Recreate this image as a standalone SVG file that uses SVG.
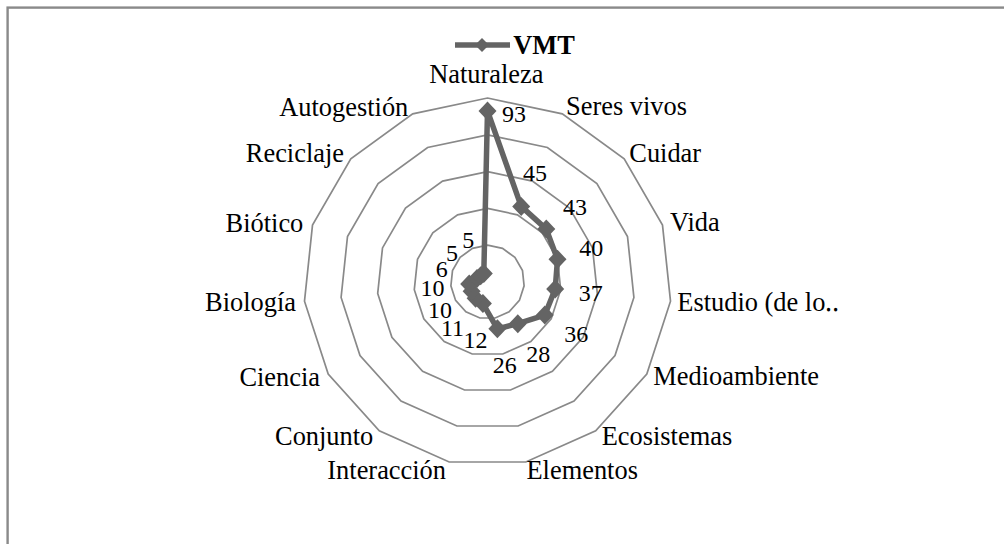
<svg xmlns="http://www.w3.org/2000/svg" xmlns:xlink="http://www.w3.org/1999/xlink" width="1004" height="544" viewBox="0 0 1004 544">
<style>
.ring{fill:none;stroke:#898989;stroke-width:1.7;stroke-linejoin:miter}
.cat{font-family:"Liberation Serif","Times New Roman",serif;font-size:26.4px;fill:#000}
.val{font-family:"Liberation Serif","Times New Roman",serif;font-size:24px;fill:#000;text-anchor:middle}
.series{fill:none;stroke:#646464;stroke-width:5.5;stroke-linejoin:round}
.mk{fill:#646464}
</style>
<defs>
<path id="dia" d="M0,-9.5 L9,0 L0,9.5 L-9,0 Z"/>
</defs>
<rect x="0" y="0" width="1004" height="544" fill="#fff"/>
<rect x="7.6" y="7.6" width="1010" height="560" fill="#fff" stroke="#8a8a8a" stroke-width="2.4"/>
<g id="grid">
<polygon class="ring" points="487.5,98 562.3,113.9 624.2,158.9 662.5,225.1 670.5,301.2 646.8,374 595.7,430.9 525.8,462 449.2,462 379.3,430.9 328.2,374 304.5,301.2 312.5,225.1 350.8,158.9 412.7,113.9"/>
<polygon class="ring" points="487.5,134.8 547.4,147.5 596.9,183.5 627.5,236.5 633.9,297.4 615,355.6 574,401.1 518.1,426 456.9,426 401,401.1 360,355.6 341.1,297.4 347.5,236.5 378.1,183.5 427.6,147.5"/>
<polygon class="ring" points="487.5,171.6 532.4,181.1 569.5,208.1 592.5,247.9 597.3,293.5 583.1,337.2 552.4,371.3 510.5,390 464.5,390 422.6,371.3 391.9,337.2 377.7,293.5 382.5,247.9 405.5,208.1 442.6,181.1"/>
<polygon class="ring" points="487.5,208.4 517.4,214.8 542.2,232.8 557.5,259.3 560.7,289.7 551.2,318.8 530.8,341.5 502.8,354 472.2,354 444.2,341.5 423.8,318.8 414.3,289.7 417.5,259.3 432.8,232.8 457.6,214.8"/>
<polygon class="ring" points="487.5,245.2 502.5,248.4 514.9,257.4 522.5,270.6 524.1,285.8 519.4,300.4 509.1,311.8 495.2,318 479.9,318 465.9,311.8 455.6,300.4 450.9,285.8 452.5,270.6 460.1,257.4 472.5,248.4"/>
</g>
<g id="categories">
<text class="cat" x="486.3" y="83" text-anchor="middle">Naturaleza</text>
<text class="cat" x="566" y="115">Seres vivos</text>
<text class="cat" x="629.3" y="161.7">Cuidar</text>
<text class="cat" x="670" y="231">Vida</text>
<text class="cat" x="677.3" y="310.7">Estudio (de lo‥</text>
<text class="cat" x="653.3" y="385">Medioambiente</text>
<text class="cat" x="601.7" y="445">Ecosistemas</text>
<text class="cat" x="526.5" y="479">Elementos</text>
<text class="cat" x="446" y="479" text-anchor="end">Interacción</text>
<text class="cat" x="373.3" y="445" text-anchor="end">Conjunto</text>
<text class="cat" x="320" y="386" text-anchor="end">Ciencia</text>
<text class="cat" x="296" y="310.7" text-anchor="end">Biología</text>
<text class="cat" x="303.3" y="231.7" text-anchor="end">Biótico</text>
<text class="cat" x="344" y="161.7" text-anchor="end">Reciclaje</text>
<text class="cat" x="408.3" y="116" text-anchor="end">Autogestión</text>
</g>
<g id="connectors">
<polygon class="series" points="487.5,110.9 521.2,206.4 546.3,229.1 557.5,259.3 555.2,289.1 544.8,315.1 517.8,323.7 497.4,328.8 482.9,303.6 475.6,298.3 471.6,291.2 469.2,283.9 477,278.6 480.7,275.8 483.8,273.6"/>
</g>
<g id="markers">
<use href="#dia" xlink:href="#dia" class="mk" x="487.5" y="110.9"/>
<use href="#dia" xlink:href="#dia" class="mk" x="521.2" y="206.4"/>
<use href="#dia" xlink:href="#dia" class="mk" x="546.3" y="229.1"/>
<use href="#dia" xlink:href="#dia" class="mk" x="557.5" y="259.3"/>
<use href="#dia" xlink:href="#dia" class="mk" x="555.2" y="289.1"/>
<use href="#dia" xlink:href="#dia" class="mk" x="544.8" y="315.1"/>
<use href="#dia" xlink:href="#dia" class="mk" x="517.8" y="323.7"/>
<use href="#dia" xlink:href="#dia" class="mk" x="497.4" y="328.8"/>
<use href="#dia" xlink:href="#dia" class="mk" x="482.9" y="303.6"/>
<use href="#dia" xlink:href="#dia" class="mk" x="475.6" y="298.3"/>
<use href="#dia" xlink:href="#dia" class="mk" x="471.6" y="291.2"/>
<use href="#dia" xlink:href="#dia" class="mk" x="469.2" y="283.9"/>
<use href="#dia" xlink:href="#dia" class="mk" x="477" y="278.6"/>
<use href="#dia" xlink:href="#dia" class="mk" x="480.7" y="275.8"/>
<use href="#dia" xlink:href="#dia" class="mk" x="483.8" y="273.6"/>
</g>
<g id="values">
<text class="val" x="514" y="121.7">93</text>
<text class="val" x="535" y="181">45</text>
<text class="val" x="575" y="214.5">43</text>
<text class="val" x="591.3" y="256">40</text>
<text class="val" x="590.8" y="300.7">37</text>
<text class="val" x="576.2" y="341.7">36</text>
<text class="val" x="538.3" y="361.7">28</text>
<text class="val" x="504.7" y="372.7">26</text>
<text class="val" x="475.5" y="348.3">12</text>
<text class="val" x="452.5" y="336">11</text>
<text class="val" x="440" y="318.3">10</text>
<text class="val" x="432.5" y="296">10</text>
<text class="val" x="441.7" y="276.7">6</text>
<text class="val" x="452" y="260.7">5</text>
<text class="val" x="468.3" y="248.3">5</text>
</g>
<g id="legend">
<line x1="455" y1="45" x2="510" y2="45" stroke="#646464" stroke-width="5.5"/>
<path d="M482,38 L489,45 L482,52 L475,45 Z" fill="#646464"/>
<text x="513.3" y="54.3" font-family="'Liberation Serif','Times New Roman',serif" font-size="26.4px" font-weight="bold" fill="#000">VMT</text>
</g>
</svg>
